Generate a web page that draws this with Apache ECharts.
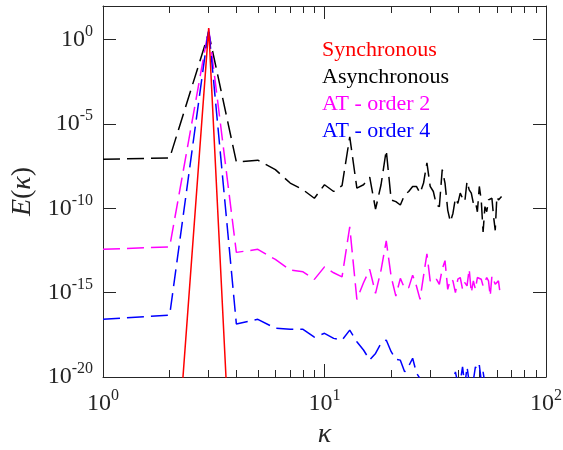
<!DOCTYPE html>
<html>
<head>
<meta charset="utf-8">
<script src="https://cdn.jsdelivr.net/npm/echarts@6/dist/echarts.min.js"></script>
<style>
  html, body { margin: 0; padding: 0; background: #fff; }
  #chart { width: 563px; height: 450px; }
</style>
</head>
<body>
<div id="chart"></div>
<script>
// wavenumbers
var kappa = [];
for (var i = 1; i <= 63; i++) kappa.push(i);

// spectra, stored as log10(E)
var syncLog = [-31.5, -30.7, 0.69, -32.4, -33.0];
var asyncLog = [-7.09, -7.01, 0.40, -7.25, -7.14, -7.70, -8.50, -8.90, -9.40, -8.60,
  -9.00, -8.65, -5.76, -8.80, -8.60, -8.15, -10.05, -8.60, -6.55, -9.50,
  -9.60, -9.80, -9.20, -9.00, -8.70, -8.70, -9.10, -8.50, -7.30, -8.70,
  -9.00, -9.80, -9.90, -7.70, -8.50, -10.10, -10.80, -10.30, -9.40, -9.70,
  -9.10, -9.40, -9.60, -8.40, -8.90, -9.10, -9.70, -9.60, -10.20, -8.70,
  -9.50, -11.40, -9.90, -10.20, -9.50, -9.50, -9.40, -10.50, -11.30, -9.30,
  -9.50, -9.60, -9.30];
var at2Log = [-12.43, -12.28, 0.66, -12.61, -12.43, -13.03, -13.66, -13.76, -14.21, -13.47,
  -13.82, -14.06, -11.10, -15.40, -14.41, -13.62, -15.04, -13.66, -11.93, -14.06,
  -15.20, -14.15, -14.75, -14.70, -13.96, -14.60, -15.40, -14.00, -12.70, -14.30,
  -14.40, -14.20, -14.50, -13.60, -13.10, -14.80, -14.20, -14.30, -15.00, -14.20,
  -14.10, -14.80, -14.40, -14.60, -13.60, -15.00, -14.30, -14.80, -14.10, -14.00,
  -14.20, -14.60, -14.70, -14.10, -14.30, -15.20, -14.00, -14.10, -14.50, -14.60,
  -14.30, -15.00, -14.90];
var at4Log = [-16.58, -16.33, 0.68, -16.86, -16.58, -17.11, -17.17, -17.17, -17.63, -17.41,
  -17.71, -17.81, -17.22, -17.91, -18.40, -18.99, -18.60, -18.00, -17.81, -18.50,
  -18.95, -19.00, -19.69, -19.35, -18.89, -19.75, -20.10, -20.50, -20.80, -21.00,
  -20.90, -21.20, -20.80, -21.10, -20.90, -20.70, -20.60, -20.20, -19.70, -20.40,
  -20.30, -19.40, -20.50, -19.40, -20.30, -20.60, -20.20, -19.40, -19.60, -19.30,
  -20.20, -19.70, -20.40, -20.60, -20.10, -20.50, -20.80, -21.00, -20.70, -21.00,
  -20.90, -21.10, -21.00];

var seriesNames = ['Synchronous', 'Asynchronous', 'AT - order 2', 'AT - order 4'];
var seriesColors = ['#ff0000', '#000000', '#ff00ff', '#0000ff'];

var xMajor = [1, 10, 100];
var xMinor = [2, 3, 4, 5, 6, 7, 8, 9, 20, 30, 40, 50, 60, 70, 80, 90];
var yMajor = [1e-20, 1e-15, 1e-10, 1e-5, 1];

function pairs(logs) {
  return logs.map(function (e, i) { return [kappa[i], Math.pow(10, e)]; });
}

var axisColor = '#262626';
var serif = 'Liberation Serif';

var powLabel = {
  fontFamily: serif,
  color: axisColor,
  formatter: function (v) {
    var e = Math.round(Math.log10(v));
    return '{b|10}{s|' + e + '}';
  },
  rich: {
    b: { fontFamily: serif, fontSize: 24, color: axisColor },
    s: { fontFamily: serif, fontSize: 16, color: axisColor, padding: [0, 0, 16, 0] }
  }
};

function xAx(pos, ticks, len, showLine, label) {
  return {
    type: 'log', position: pos, min: 1, max: 100, logBase: 10,
    axisLine: { show: showLine, onZero: false, lineStyle: { color: axisColor, width: 1 } },
    axisTick: { show: true, inside: true, length: len, customValues: ticks,
      lineStyle: { color: axisColor, width: 1 } },
    axisLabel: label ? Object.assign({ customValues: xMajor, margin: 11 }, powLabel) : { show: false },
    splitLine: { show: false }
  };
}

function yAx(pos, label) {
  return {
    type: 'log', position: pos, min: 1e-20, max: 1e2, logBase: 10,
    axisLine: { show: true, onZero: false, lineStyle: { color: axisColor, width: 1 } },
    axisTick: { show: true, inside: true, length: 13, customValues: yMajor,
      lineStyle: { color: axisColor, width: 1 } },
    axisLabel: label ? Object.assign({ customValues: yMajor, margin: 10 }, powLabel) : { show: false },
    splitLine: { show: false }
  };
}

var xAxes = [
  xAx('bottom', xMajor, 13, true, true),
  xAx('bottom', xMinor, 7, false, false),
  xAx('top', xMajor, 13, true, false),
  xAx('top', xMinor, 7, false, false)
];
xAxes[0].name = 'κ';
xAxes[0].nameLocation = 'middle';
xAxes[0].nameGap = 44;
xAxes[0].nameTextStyle = { fontFamily: serif, fontStyle: 'italic', fontSize: 28, color: axisColor };

var yAxes = [yAx('left', true), yAx('right', false)];
yAxes[0].name = '{i|E}{n|(}{i|κ}{n|)}';
yAxes[0].nameLocation = 'middle';
yAxes[0].nameGap = 58;
yAxes[0].nameRotate = 90;
yAxes[0].nameTextStyle = {
  color: axisColor,
  rich: {
    i: { fontFamily: serif, fontStyle: 'italic', fontSize: 28, color: axisColor },
    n: { fontFamily: serif, fontSize: 28, color: axisColor }
  }
};

var lineData = [syncLog, asyncLog, at2Log, at4Log];
var series = lineData.map(function (logs, i) {
  return {
    name: seriesNames[i],
    type: 'line',
    data: pairs(logs),
    showSymbol: false,
    symbol: 'none',
    clip: true,
    animation: false,
    z: i === 0 ? 5 : 2,
    lineStyle: {
      color: seriesColors[i],
      width: 1.5,
      type: i === 0 ? 'solid' : [17, 7]
    },
    itemStyle: { color: seriesColors[i] }
  };
});

var chart = echarts.init(document.getElementById('chart'));
chart.setOption({
  animation: false,
  backgroundColor: '#ffffff',
  grid: { left: 103, right: 17, top: 6, bottom: 73, containLabel: false, outerBoundsMode: 'none' },
  legend: {
    orient: 'vertical',
    left: 317,
    top: 39,
    icon: 'rect',
    itemWidth: 0,
    itemHeight: 0,
    itemGap: 5,
    selectedMode: false,
    padding: 0,
    data: seriesNames.map(function (n, i) {
      return { name: n, textStyle: { color: seriesColors[i] } };
    }),
    textStyle: { fontFamily: serif, fontSize: 22, lineHeight: 22, padding: 0 }
  },
  xAxis: xAxes,
  yAxis: yAxes,
  series: series
});
</script>
</body>
</html>
